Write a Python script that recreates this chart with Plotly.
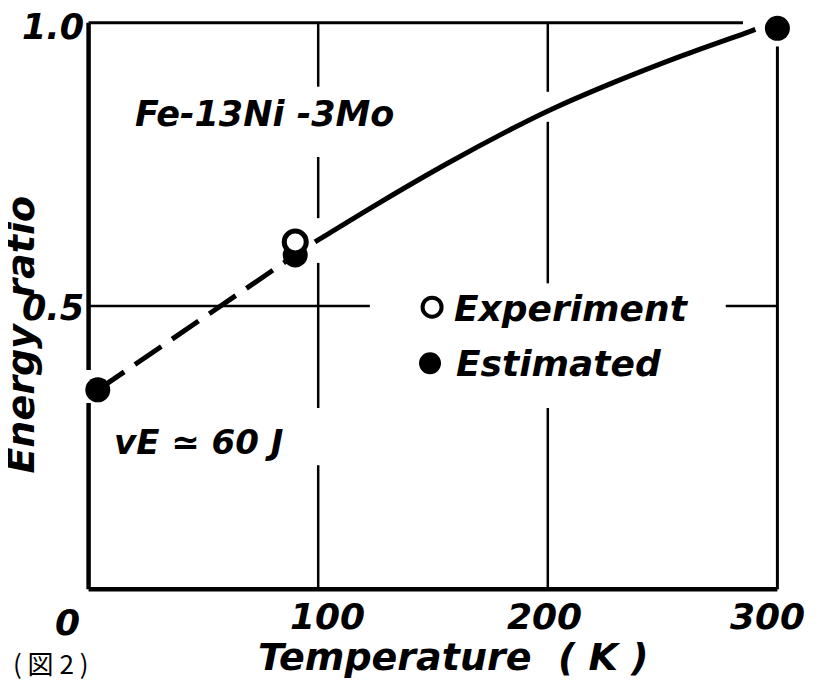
import plotly.graph_objects as go

# ---- data ----
temp_exp = [90]
ratio_exp = [0.613]
temp_est = [4, 90, 300]
ratio_est = [0.352, 0.59, 0.99]
curve_t = [98.6, 127, 156, 185, 201, 229, 258, 287, 290.4]
curve_r = [0.613, 0.683, 0.751, 0.814, 0.846, 0.895, 0.941, 0.983, 0.988]
dash_t = [4, 90]
dash_r = [0.352, 0.59]
x_ticks = [0, 100, 200, 300]
x_tick_labels = ["0", "100", "200", "300"]
y_ticks = [1.0, 0.5]
y_tick_labels = ["1.0", "0.5"]

FONT = "DejaVu Sans"

fig = go.Figure()

# frame and partial grid lines (segments)
segs = [
    ("v", 0, 1.0, 0.387, 4.5), ("v", 0, 0.329, 0.0, 4.5),
    ("v", 300, 0.958, 0.0, 3),
    ("v", 100, 1.0, 0.887, 2.5), ("v", 100, 0.763, 0.655, 2.5),
    ("v", 100, 0.576, 0.32, 2.5), ("v", 100, 0.219, 0.0, 2.5),
    ("v", 200, 1.0, 0.878, 2.5), ("v", 200, 0.825, 0.54, 2.5),
    ("v", 200, 0.32, 0.0, 2.5),
    ("h", 0.0, 0, 300, 4.5), ("h", 1.0, 0, 285, 3),
    ("h", 0.5, 0, 122.5, 2.5), ("h", 0.5, 277.5, 300, 2.5),
]
for kind, c, a, b, w in segs:
    if kind == "v":
        fig.add_shape(type="line", x0=c, x1=c, y0=a, y1=b, xref="x", yref="y",
                      line=dict(color="black", width=w))
    else:
        fig.add_shape(type="line", y0=c, y1=c, x0=a, x1=b, xref="x", yref="y",
                      line=dict(color="black", width=w))

fig.add_trace(go.Scatter(x=dash_t, y=dash_r, mode="lines",
                         line=dict(color="black", width=5, dash="32px,13px"),
                         showlegend=False))
fig.add_trace(go.Scatter(x=curve_t, y=curve_r, mode="lines",
                         line=dict(color="black", width=5, shape="spline", smoothing=1.0),
                         showlegend=False))
fig.add_trace(go.Scatter(x=temp_est, y=ratio_est, mode="markers",
                         marker=dict(color="black", size=25, line=dict(width=0)),
                         cliponaxis=False, showlegend=False))
fig.add_trace(go.Scatter(x=temp_exp, y=ratio_exp, mode="markers",
                         marker=dict(color="white", size=22, symbol="circle",
                                     line=dict(color="black", width=5)),
                         cliponaxis=False, showlegend=False))
# white inner mark of the 300 K point
fig.add_trace(go.Scatter(x=[temp_est[-1]], y=[ratio_est[-1]], mode="markers",
                         marker=dict(color="rgba(0,0,0,0)", size=12, symbol="circle-open",
                                     line=dict(color="white", width=2)),
                         cliponaxis=False, showlegend=False))

# legend symbols (pixel sized circles)
fig.add_shape(type="circle", xref="x", yref="y", xsizemode="pixel", ysizemode="pixel",
              xanchor=149.6, yanchor=0.498, x0=-9.5, x1=9.5, y0=-9.5, y1=9.5,
              fillcolor="white", line=dict(color="black", width=4))
fig.add_shape(type="circle", xref="x", yref="y", xsizemode="pixel", ysizemode="pixel",
              xanchor=148.7, yanchor=0.399, x0=-11, x1=11, y0=-11, y1=11,
              fillcolor="black", line=dict(color="black", width=0))

def ann(text, x, y, size, xanchor="center", xshift=0, yshift=0, angle=0, family=FONT,
        weight="bold", style="italic", ref="x"):
    fig.add_annotation(text=text, x=x, y=y,
                       xref="x" if ref == "x" else "paper",
                       yref="y" if ref == "x" else "paper",
                       showarrow=False, borderpad=0,
                       xanchor=xanchor, yanchor="middle", xshift=xshift, yshift=yshift,
                       textangle=angle,
                       font=dict(family=family, size=size, color="black",
                                 weight=weight, style=style))

ann("Fe-13Ni -3Mo", 76.5, 0.839, 35)
ann("Experiment", 158.7, 0.495, 36, xanchor="left")
ann("Estimated", 159.6, 0.399, 36, xanchor="left")
ann("vE ≃ 60 J", 10.5, 0.26, 34, xanchor="left")

x_shifts = [-21, 9, -3, -10]
y_shifts = [-33, -27, -27, -27]
for t, lab, xs, ys in zip(x_ticks, x_tick_labels, x_shifts, y_shifts):
    ann(lab, t, 0, 36, xshift=xs, yshift=ys)
y_yshifts = [-4, -2]
for v, lab, ys in zip(y_ticks, y_tick_labels, y_yshifts):
    ann(lab, 0, v, 35, xshift=-36, yshift=ys)

ann("Temperature  ( K )", 0.530, -0.1075, 38, ref="paper")
ann("Energy  ratio", -0.0895, 0.4497, 38, angle=-90, ref="paper")
ann("( 図 2 )", -0.1038, -0.1167, 26, xanchor="left", family="Noto Sans CJK JP",
    weight="normal", style="normal", ref="paper")

fig.update_xaxes(range=[-2, 302], showgrid=False, zeroline=False, showline=False,
                 showticklabels=False, ticks="")
fig.update_yaxes(range=[-0.01, 1.01], showgrid=False, zeroline=False, showline=False,
                 showticklabels=False, ticks="")
fig.update_layout(width=823, height=683, plot_bgcolor="white", paper_bgcolor="white",
                  margin=dict(l=76.4, r=49.4, t=9.3, b=96.4, autoexpand=False),
                  showlegend=False)

fig.write_html("out.html")
